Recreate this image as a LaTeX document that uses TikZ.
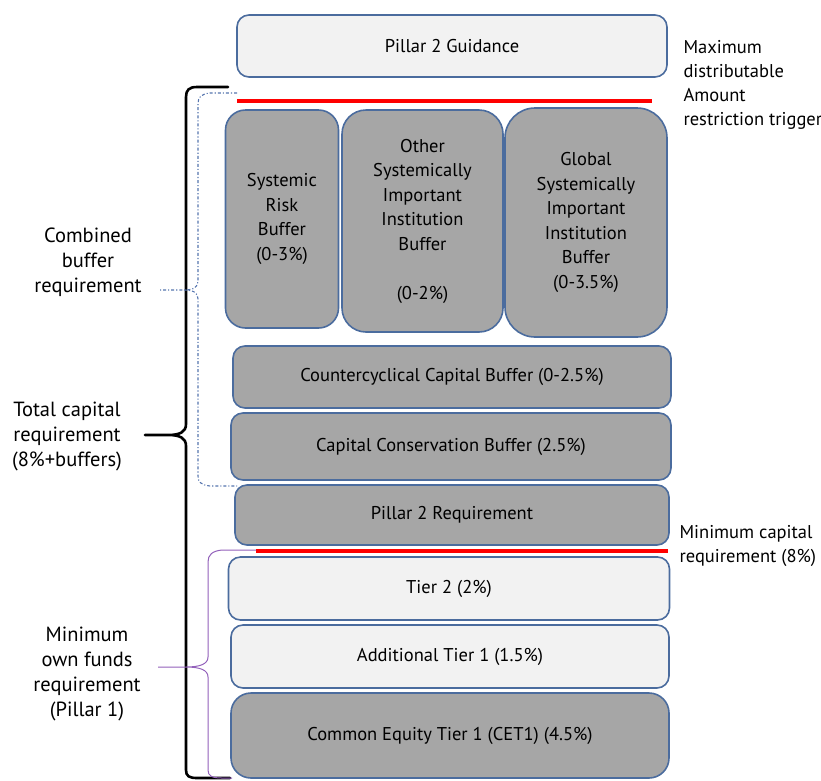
\documentclass[tikz,border=0pt]{standalone}
\usepackage{fontspec}
\setmainfont{PT Sans}
\usepackage{tikz}
\usepackage{xcolor}
\definecolor{boxline}{HTML}{4B6C9E}
\definecolor{boxgrey}{HTML}{A6A6A6}
\definecolor{boxlight}{HTML}{F2F2F2}
\definecolor{trigred}{HTML}{FF0000}
\definecolor{bufferblue}{HTML}{5574AE}
\definecolor{fundspurple}{HTML}{9260BA}
\tikzstyle{layerbox} =[
    draw=boxline,
    line width=1.6pt,
    rectangle,
    rounded corners=12pt,
    align=center,
    inner sep=2pt,
    font=\fontsize{18.5}{24.5}\selectfont
    ]
\tikzstyle{greybox} = [layerbox, fill=boxgrey]
\tikzstyle{lightbox} = [layerbox, fill=boxlight]
\tikzstyle{sidelabel} =[
    align=center,
    font=\fontsize{20.5}{25}\selectfont
    ]
\tikzstyle{notelabel} =[
    align=left,
    anchor=west,
    font=\fontsize{18.5}{24}\selectfont
    ]
\tikzstyle{trigline} = [draw=trigred, line width=4pt]

\begin{document}
\begin{tikzpicture}[x=1pt,y=-1pt]
\useasboundingbox (0,0) rectangle (821,780);

% boxes, top to bottom
\node[lightbox, minimum width=430pt, minimum height=62pt] (guide) at (452,46) {Pillar 2 Guidance};
\node[greybox, minimum width=113pt, minimum height=218pt, rounded corners=20pt] (srb) at (282,219) {Systemic\\Risk\\Buffer\\(0-3\%)};
\node[greybox, minimum width=161pt, minimum height=222pt, rounded corners=24pt] (osii) at (422.5,221) {Other\\Systemically\\Important\\Institution\\Buffer\\[24.5pt](0-2\%)};
\node[greybox, minimum width=162pt, minimum height=229pt, rounded corners=30pt] (gsii) at (586,222.5) {Global\\Systemically\\Important\\Institution\\Buffer\\(0-3.5\%)};
\node[greybox, minimum width=438pt, minimum height=62pt] (ccyb) at (452,377) {Countercyclical Capital Buffer (0-2.5\%)};
\node[greybox, minimum width=440pt, minimum height=67pt] (ccb) at (451,446.5) {Capital Conservation Buffer (2.5\%)};
\node[greybox, minimum width=434pt, minimum height=60pt] (ptr) at (452,515) {Pillar 2 Requirement};
\node[lightbox, minimum width=441pt, minimum height=63pt] (tiertwo) at (449,588.5) {Tier 2 (2\%)};
\node[lightbox, minimum width=438pt, minimum height=63pt] (atone) at (450,656.5) {Additional Tier 1 (1.5\%)};
\node[greybox, minimum width=438pt, minimum height=85pt, rounded corners=20pt] (cetone) at (450,735.5) {Common Equity Tier 1 (CET1) (4.5\%)};

% trigger lines
\draw[trigline] (237,101) -- (652,101);
\draw[trigline] (256,551) -- (668,551);

% labels
\node[notelabel] (mda) at (680,85) {Maximum\\distributable\\Amount\\restriction trigger};
\node[notelabel] (mcr) at (676,546) {Minimum capital\\requirement (8\%)};
\node[sidelabel] (cbr) at (88,262) {Combined\\buffer\\requirement};
\node[sidelabel] (tcr) at (67,436) {Total capital\\requirement\\(8\%+buffers)};
\node[sidelabel] (mofr) at (87,674) {Minimum\\own funds\\requirement\\(Pillar 1)};

% brackets
\coordinate (tcrtip) at (145,435);
\coordinate (cbrtip) at (158,290);
\coordinate (mofrtip) at (158,667);
\draw[line width=2.6pt, line cap=round] (228,87) -- (197,87) .. controls (189,87) and (186,90) .. (186,97)
    -- (186,424) .. controls (186,432) and (180,435) .. (168,435) -- (tcrtip)
    (168,435) .. controls (180,435) and (186,438) .. (186,446)
    -- (186,770) .. controls (186,776) and (189,778) .. (197,778) -- (230,778);
\draw[bufferblue, line width=1.1pt, dash dot] (237,93) -- (210,93) .. controls (201,94) and (198,97) .. (198,104)
    -- (198,281) .. controls (198,287) and (194,290) .. (184,290) -- (cbrtip)
    (184,290) .. controls (194,290) and (198,293) .. (198,299)
    -- (198,476) .. controls (198,482) and (201,485) .. (210,486) -- (237,486);
\draw[fundspurple, line width=1pt] (256,550) -- (222,550) .. controls (212,551) and (208,555) .. (208,562)
    -- (208,657) .. controls (208,664) and (200,667) .. (186,667) -- (mofrtip)
    (186,667) .. controls (200,667) and (208,670) .. (208,677)
    -- (208,770) .. controls (208,776) and (212,778) .. (222,778) -- (232,778);
\end{tikzpicture}
\end{document}
